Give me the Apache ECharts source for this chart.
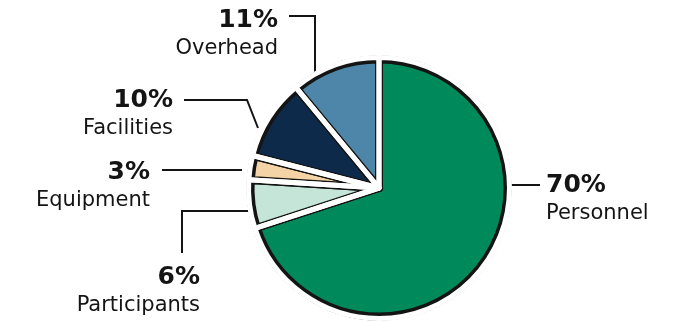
<!DOCTYPE html>
<html>
<head>
<meta charset="utf-8">
<script src="https://cdn.jsdelivr.net/npm/echarts@6/dist/echarts.min.js"></script>
<style>
  html, body { margin: 0; padding: 0; background: #fff; }
  #chartsDiv { width: 680px; height: 322px; }
</style>
</head>
<body>
<div id="chartsDiv"></div>
<script>
var categories = ['Personnel', 'Participants', 'Equipment', 'Facilities', 'Overhead'];
var shares = [70, 6, 3, 10, 11];
var percentLabels = ['70%', '6%', '3%', '10%', '11%'];
var sliceColors = ['#008a5c', '#c6e5d9', '#f4d3a6', '#0e2a4b', '#4d86a8'];

// where each label block sits and how its leader line runs (by slice index)
var labelSpots = [
  { x: 546, y: 170, align: 'left', line: [[511, 185], [526, 185], [540, 185]] },
  { x: 200, y: 262, align: 'right', line: [[248, 211], [182, 211], [182, 253]] },
  { x: 150, y: 157, align: 'right', line: [[242, 170], [202, 170], [162, 170]] },
  { x: 173, y: 85, align: 'right', line: [[258, 128], [247, 100], [184, 100]] },
  { x: 278, y: 5, align: 'right', line: [[315, 72], [315, 16], [289, 16]] }
];

var realChart;
var initChart = function () {
  realChart = echarts.init(document.getElementById('chartsDiv'));

  var pieData = categories.map(function (name, i) {
    return { name: name, value: shares[i], itemStyle: { color: sliceColors[i] } };
  });
  var gapData = categories.map(function (name, i) {
    return { name: name, value: shares[i] };
  });

  var option = {
    animation: false,
    series: [
      {
        // coloured slices with a wide dark border
        type: 'pie',
        center: [379, 188],
        radius: 128.5,
        startAngle: 90,
        silent: true,
        avoidLabelOverlap: false,
        itemStyle: {
          borderColor: '#141414',
          borderWidth: 8,
          borderJoin: 'round'
        },
        label: { show: false },
        labelLine: { show: false },
        data: pieData
      },
      {
        // white gaps on top leave a thin dark outline on each slice
        type: 'pie',
        center: [379, 188],
        radius: 130.5,
        startAngle: 90,
        silent: true,
        avoidLabelOverlap: false,
        itemStyle: {
          color: 'rgba(0,0,0,0)',
          borderColor: '#fff',
          borderWidth: 5,
          borderJoin: 'round'
        },
        label: {
          show: true,
          formatter: function (p) {
            return '{p|' + percentLabels[p.dataIndex] + '}\n{n|' + p.name + '}';
          },
          rich: {
            p: {
              fontFamily: 'DejaVu Sans',
              fontWeight: 'bold',
              fontSize: 25,
              lineHeight: 30,
              color: '#141414'
            },
            n: {
              fontFamily: 'DejaVu Sans',
              fontSize: 21,
              lineHeight: 28,
              color: '#141414'
            }
          }
        },
        labelLine: {
          show: true,
          lineStyle: { color: '#141414', width: 2 }
        },
        labelLayout: function (params) {
          var s = labelSpots[params.dataIndex];
          return {
            x: s.x,
            y: s.y,
            align: s.align,
            verticalAlign: 'top',
            labelLinePoints: s.line
          };
        },
        data: gapData
      }
    ]
  };

  realChart.setOption(option);
};
initChart();
</script>
</body>
</html>
